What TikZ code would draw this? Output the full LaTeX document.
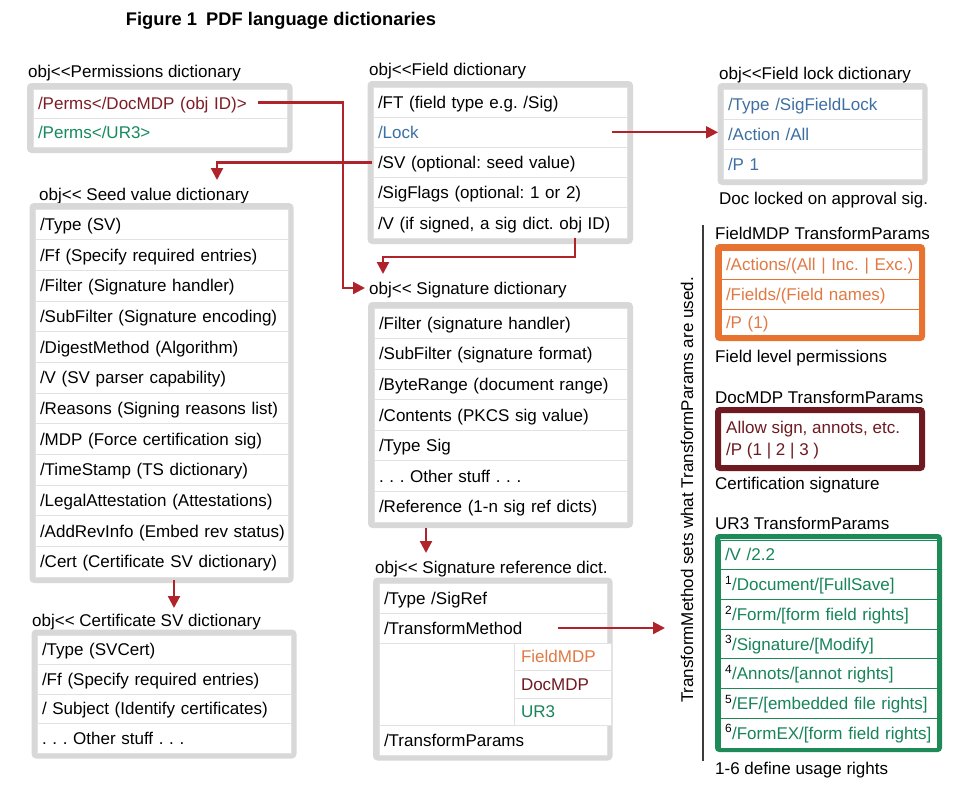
\documentclass[tikz,border=0pt]{standalone}
\usepackage{fontspec}
\setmainfont{Liberation Sans}[Ligatures=TeXOff]
\usetikzlibrary{arrows.meta}
\definecolor{framegray}{HTML}{D8D8D8}
\definecolor{sepgray}{HTML}{E2E2E2}
\definecolor{arrowred}{HTML}{B0232B}
\definecolor{permred}{HTML}{7D1D26}
\definecolor{permgreen}{HTML}{168A5E}
\definecolor{lockblue}{HTML}{3D6FA3}
\definecolor{orangeC}{HTML}{E8722F}
\definecolor{orangeT}{HTML}{E07A45}
\definecolor{maroonC}{HTML}{6E1A20}
\definecolor{greenC}{HTML}{1E8A58}
\definecolor{greenT}{HTML}{17845A}
\definecolor{linegray}{HTML}{3C3C3C}
\newcommand\rf{\fontsize{17}{20}\selectfont\frenchspacing}
% #1 options, #2 name, #3 x, #4 y, #5 width, #6 height, #7 text
\newcommand\drow[7][]{\pgfmathsetmacro\drowtw{#5-10}\node[row,text width=\drowtw pt,minimum height=#6pt,#1] (#2) at (#3,#4) {\mbox{#7}};}
\begin{document}
\begin{tikzpicture}[x=1pt,y=-1pt,
  frame/.style={draw=framegray,line width=6pt,fill=white,rounded corners=2pt},
  row/.style={draw=sepgray,line width=0.9pt,fill=white,anchor=north west,inner xsep=5pt,inner ysep=0pt,outer sep=0pt,text height=14pt,text depth=1.8pt,align=left,font=\rf},
  lbl/.style={anchor=west,inner sep=0pt,text height=14pt,text depth=1.8pt,font=\rf},
  arr/.style={draw=arrowred,line width=2.2pt,-{Triangle[length=12pt,width=12pt]}}
]
\useasboundingbox[fill=white] (0,0) rectangle (959,788);

% title
\node[font=\fontsize{18.3}{22}\selectfont\bfseries] (title) at (281,21) {Figure 1\hspace{0.5em}PDF language dictionaries};

% Permissions dictionary
\node[lbl] (permlbl) at (28,71) {obj<<Permissions dictionary};
\draw[frame] (30,86) rectangle (289.5,150);
\drow[text=permred]{perm1}{33}{89}{254}{29}{/Perms</DocMDP (obj ID)>}
\drow[text=permgreen]{perm2}{33}{118}{254}{29}{/Perms</UR3>}

% Field dictionary
\node[lbl] (fieldlbl) at (369,69) {obj<<Field dictionary};
\draw[frame] (370.5,84) rectangle (630,241);
\drow{fft}{373}{87}{254}{30.2}{/FT (field type e.g. /Sig)}
\drow[text=lockblue]{flk}{373}{117.2}{254}{30.2}{/Lock}
\drow{fsv}{373}{147.4}{254}{30.2}{/SV (optional: seed value)}
\drow{fsf}{373}{177.6}{254}{30.2}{/SigFlags (optional: 1 or 2)}
\drow{fv}{373}{207.8}{254}{30.2}{/V (if signed, a sig dict. obj ID)}

% Field lock dictionary
\node[lbl] (locklbl) at (719,73) {obj<<Field lock dictionary};
\draw[frame] (720.5,86) rectangle (924.5,182);
\drow[text=lockblue]{fl1}{723}{89}{199}{30}{/Type /SigFieldLock}
\drow[text=lockblue]{fl2}{723}{119}{199}{30}{/Action /All}
\drow[text=lockblue]{fl3}{723}{149}{199}{30}{/P 1}
\node[lbl] (locknote) at (719,198) {Doc locked on approval sig.};

% Seed value dictionary
\node[lbl] (seedlbl) at (39,194) {obj<< Seed value dictionary};
\draw[frame] (32.5,206) rectangle (290.5,580);
\drow{sv1}{35}{209}{253}{30.67}{/Type (SV)}
\drow{sv2}{35}{239.67}{253}{30.67}{/Ff (Specify required entries)}
\drow{sv3}{35}{270.33}{253}{30.67}{/Filter (Signature handler)}
\drow{sv4}{35}{301}{253}{30.67}{/SubFilter (Signature encoding)}
\drow{sv5}{35}{331.67}{253}{30.67}{/DigestMethod (Algorithm)}
\drow{sv6}{35}{362.33}{253}{30.67}{/V (SV parser capability)}
\drow{sv7}{35}{393}{253}{30.67}{/Reasons (Signing reasons list)}
\drow{sv8}{35}{423.67}{253}{30.67}{/MDP (Force certification sig)}
\drow{sv9}{35}{454.33}{253}{30.67}{/TimeStamp (TS dictionary)}
\drow{sv10}{35}{485}{253}{30.67}{/LegalAttestation (Attestations)}
\drow{sv11}{35}{515.67}{253}{30.67}{/AddRevInfo (Embed rev status)}
\drow{sv12}{35}{546.33}{253}{30.67}{/Cert (Certificate SV dictionary)}

% Certificate SV dictionary
\node[lbl] (certlbl) at (32,620) {obj<< Certificate SV dictionary};
\draw[frame] (34.5,632.5) rectangle (293.5,755.5);
\drow{cs1}{37}{635}{254}{29.5}{/Type (SVCert)}
\drow{cs2}{37}{664.5}{254}{29.5}{/Ff (Specify required entries)}
\drow{cs3}{37}{694}{254}{29.5}{/ Subject (Identify certificates)}
\drow{cs4}{37}{723.5}{254}{29.5}{. . . Other stuff . . .}

% Signature dictionary
\node[lbl] (siglbl) at (369,288) {obj<< Signature dictionary};
\draw[frame] (371,305) rectangle (630,525);
\drow{sd1}{374}{308}{253}{30.57}{/Filter (signature handler)}
\drow{sd2}{374}{338.57}{253}{30.57}{/SubFilter (signature format)}
\drow{sd3}{374}{369.14}{253}{30.57}{/ByteRange (document range)}
\drow{sd4}{374}{399.71}{253}{30.57}{/Contents (PKCS sig value)}
\drow{sd5}{374}{430.29}{253}{30.57}{/Type Sig}
\drow{sd6}{374}{460.86}{253}{30.57}{. . . Other stuff . . .}
\drow{sd7}{374}{491.43}{253}{30.57}{/Reference (1-n sig ref dicts)}

% Signature reference dictionary
\node[lbl] (sigreflbl) at (375,567) {obj<< Signature reference dict.};
\draw[frame] (376,580.5) rectangle (609.5,757.5);
\drow{sr1}{379}{583}{228}{30}{/Type /SigRef}
\drow{sr2}{379}{613}{228}{30}{/TransformMethod}
\drow{sr3}{379}{643}{135}{82}{}
\drow[text=orangeT,inner xsep=7pt]{sr4}{514}{643}{93}{27}{FieldMDP}
\drow[text=maroonC,inner xsep=7pt]{sr5}{514}{670}{93}{28}{DocMDP}
\drow[text=greenT,inner xsep=7pt]{sr6}{514}{698}{93}{27}{UR3}
\drow{sr7}{379}{725}{228}{30}{/TransformParams}

% vertical note
\node[font=\rf,rotate=90,inner sep=0pt] (tmnote) at (687,490) {TransformMethod sets what TransformParams are used.};
\draw[draw=linegray,line width=1.3pt] (703,225) -- (703,761);

% FieldMDP TransformParams
\node[lbl] (fmdplbl) at (715,233) {FieldMDP TransformParams};
\draw[frame,draw=orangeC] (718,247) rectangle (922,338);
\drow[text=orangeT,draw=orangeC]{fm1}{721}{250}{198}{29}{/Actions/(All | Inc. | Exc.)}
\drow[text=orangeT,draw=orangeC]{fm2}{721}{279}{198}{30}{/Fields/(Field names)}
\drow[text=orangeT,draw=orangeC]{fm3}{721}{309}{198}{26}{/P (1)}
\node[lbl] (fmdpnote) at (715,356) {Field level permissions};

% DocMDP TransformParams
\node[lbl] (dmdplbl) at (715,397) {DocMDP TransformParams};
\draw[frame,draw=maroonC] (718,410) rectangle (922,468);
\node[anchor=west,inner sep=0pt,align=left,text=maroonC,font=\fontsize{17}{22}\selectfont\frenchspacing] (dmdp) at (726,440) {Allow sign, annots, etc.\\/P (1 | 2 | 3 )};
\node[lbl] (dmdpnote) at (715,483) {Certification signature};

% UR3 TransformParams
\node[lbl] (urlbl) at (715,523) {UR3 TransformParams};
\draw[frame,draw=greenC,line width=5pt] (717.5,536.5) rectangle (939.5,749.5);
\drow[text=greenT,draw=greenC]{ur0}{720}{540}{217}{29.71}{/V /2.2}
\drow[text=greenT,draw=greenC]{ur1}{720}{569.71}{217}{29.71}{\textsuperscript{\color{black}1}/Document/[FullSave]}
\drow[text=greenT,draw=greenC]{ur2}{720}{599.43}{217}{29.71}{\textsuperscript{\color{black}2}/Form/[form field rights]}
\drow[text=greenT,draw=greenC]{ur3}{720}{629.14}{217}{29.71}{\textsuperscript{\color{black}3}/Signature/[Modify]}
\drow[text=greenT,draw=greenC]{ur4}{720}{658.86}{217}{29.71}{\textsuperscript{\color{black}4}/Annots/[annot rights]}
\drow[text=greenT,draw=greenC]{ur5}{720}{688.57}{217}{29.71}{\textsuperscript{\color{black}5}/EF/[embedded file rights]}
\drow[text=greenT,draw=greenC]{ur6}{720}{718.29}{217}{29.71}{\textsuperscript{\color{black}6}/FormEX/[form field rights]}
\node[lbl] (urnote) at (715,768) {1-6 define usage rights};

% connectors
\coordinate (a1) at ([xshift=225pt,yshift=1pt]perm1.west);
\draw[arr] (a1) -- ++(85,0) |- ([xshift=-4pt]siglbl.west);
\coordinate (a2) at (217,180);
\draw[arr] ([xshift=-1pt]fsv.west) -| (a2);
\coordinate (a3s) at ([xshift=75pt]fv.south);
\coordinate (a3e) at (383,274);
\draw[arr] (a3s) -- ++(0,19) -| (a3e);
\coordinate (a4) at ([xshift=-15pt]flk.east);
\draw[arr] (a4) -- ([xshift=-5pt]a4 -| fl2.west);
\draw[arr] ([xshift=52pt,yshift=-6pt]sd7.south west) -- ++(0,25);
\draw[arr] ([xshift=139pt,yshift=-3pt]sv12.south west) -- ++(0,28);
\draw[arr] ([xshift=179pt]sr2.west) -- ([xshift=58pt]sr2.east);
\end{tikzpicture}
\end{document}
